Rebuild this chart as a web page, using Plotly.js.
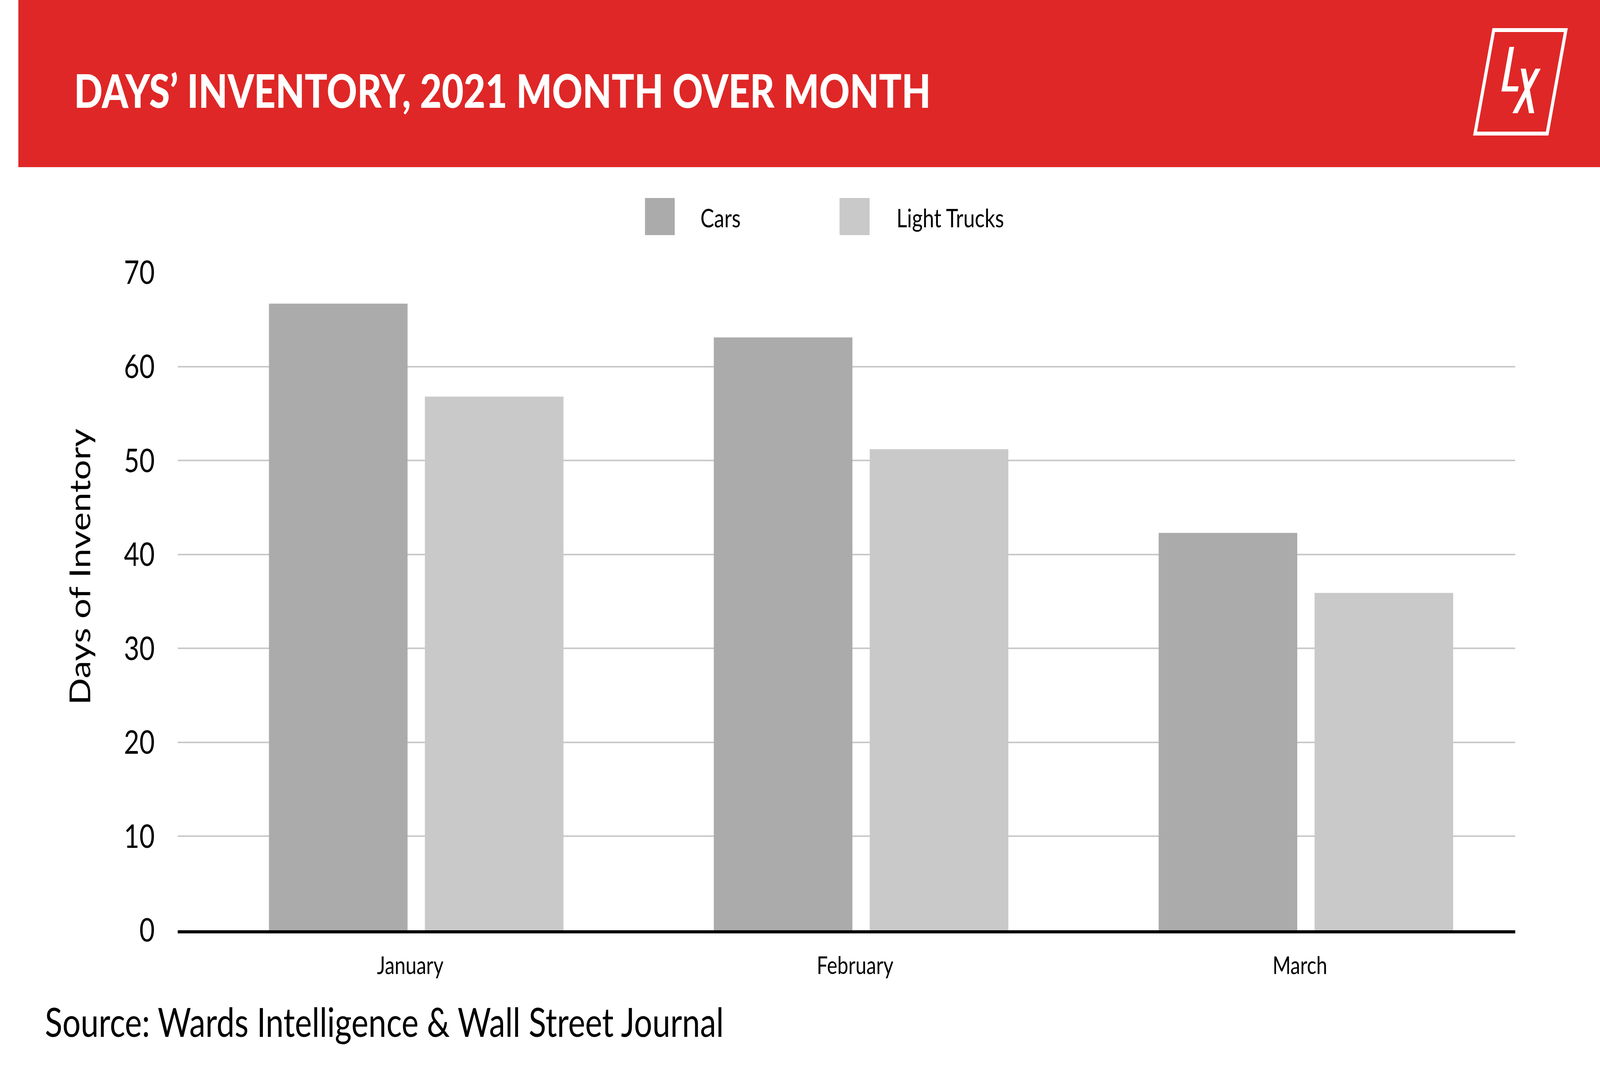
<!DOCTYPE html>
<html>
<head>
<meta charset="utf-8">
<script src="https://cdn.plot.ly/plotly-3.0.1.min.js"></script>
<style>
  html, body { margin: 0; padding: 0; background: #ffffff; overflow: hidden; }
  #chart { position: absolute; left: 0; top: 0; width: 5058px; height: 2727px; transform-origin: 0 0; }
</style>
</head>
<body>
<div id="chart"></div>
<script>
// ---- data ----
const categories = ['January', 'February', 'March'];
const carsValues = [66.7, 63.1, 42.3];
const lightTruckValues = [56.8, 51.2, 35.9];
const seriesNames = ['Cars', 'Light Trucks'];
const yTickValues = [0, 10, 20, 30, 40, 50, 60, 70];
const chartTitle = 'DAYS\u2019 INVENTORY, 2021 MONTH OVER MONTH';
const yAxisTitle = 'Days of Inventory';
const sourceText = 'Source: Wards Intelligence & Wall Street Journal';

// ---- styling: drawn on a 5058 x 2727 canvas, then fitted to the window ----
const W = 5058, H = 2727;
const chartDiv = document.getElementById('chart');
const VW = window.innerWidth || W, VH = window.innerHeight || H;
chartDiv.style.transform = 'scale(' + (VW / W) + ',' + (VH / H) + ')';

const M = { l: 562, r: 268, t: 698, b: 345 };
const PW = W - M.l - M.r, PH = H - M.t - M.b;
const px2x = p => (p - M.l) / PW;
const px2y = p => (H - M.b - p) / PH;
const colors = ['#ABABAB', '#C9C9C9'];
const RED = '#DF2727';
const FONT = 'Lato, "Open Sans", sans-serif';

const traces = [
  { type: 'bar', name: seriesNames[0], x: categories, y: carsValues,
    marker: { color: colors[0], line: { width: 0 } }, hoverinfo: 'x+y+name' },
  { type: 'bar', name: seriesNames[1], x: categories, y: lightTruckValues,
    marker: { color: colors[1], line: { width: 0 } }, hoverinfo: 'x+y+name' }
];

function pathFromPx(pts) {
  return 'M' + pts.map(p => px2x(p[0]).toFixed(6) + ',' + px2y(p[1]).toFixed(6)).join('L') + 'Z';
}

const shapes = [
  // red header band
  { type: 'rect', xref: 'paper', yref: 'paper', layer: 'below',
    x0: px2x(58), x1: px2x(W + 5), y0: px2y(0), y1: px2y(428),
    fillcolor: RED, line: { width: 0 } },
  // logo frame
  { type: 'path', xref: 'paper', yref: 'paper',
    path: pathFromPx([[4722, 77], [4950, 77], [4891, 342], [4663, 342]]),
    line: { color: '#FFFFFF', width: 10 }, fillcolor: 'rgba(0,0,0,0)' },
  // logo L
  { type: 'path', xref: 'paper', yref: 'paper',
    path: pathFromPx([[4771.5, 120], [4786.5, 120], [4765, 221], [4801, 221], [4797.5, 234.3], [4746.3, 234.3]]),
    line: { width: 0 }, fillcolor: '#FFFFFF' },
  // logo X
  { type: 'path', xref: 'paper', yref: 'paper',
    path: pathFromPx([[4807.5, 175.7], [4823.5, 175.7], [4850, 289.7], [4833.5, 289.7]]),
    line: { width: 0 }, fillcolor: '#FFFFFF' },
  { type: 'path', xref: 'paper', yref: 'paper',
    path: pathFromPx([[4854, 175.7], [4870.5, 175.7], [4797.5, 289.7], [4781, 289.7]]),
    line: { width: 0 }, fillcolor: '#FFFFFF' },
  // legend swatches
  { type: 'rect', xref: 'paper', yref: 'paper',
    x0: px2x(2039), x1: px2x(2133), y0: px2y(507), y1: px2y(602),
    fillcolor: colors[0], line: { width: 0 } },
  { type: 'rect', xref: 'paper', yref: 'paper',
    x0: px2x(2654), x1: px2x(2749), y0: px2y(507), y1: px2y(602),
    fillcolor: colors[1], line: { width: 0 } }
];

const annotations = [
  { text: chartTitle, xref: 'paper', yref: 'paper', x: px2x(232), y: px2y(230),
    xanchor: 'left', yanchor: 'middle', showarrow: false,
    font: { family: FONT, size: 119, color: '#FFFFFF', weight: 900 } },
  { text: seriesNames[0], xref: 'paper', yref: 'paper', x: px2x(2212), y: px2y(557),
    xanchor: 'left', yanchor: 'middle', showarrow: false,
    font: { family: FONT, size: 65, color: '#000000' } },
  { text: seriesNames[1], xref: 'paper', yref: 'paper', x: px2x(2832), y: px2y(557),
    xanchor: 'left', yanchor: 'middle', showarrow: false,
    font: { family: FONT, size: 65, color: '#000000' } },
  { text: yAxisTitle, xref: 'paper', yref: 'paper', x: px2x(249), y: px2y(1451),
    xanchor: 'center', yanchor: 'middle', textangle: -90, showarrow: false,
    font: { family: FONT, size: 91, color: '#000000' } },
  { text: sourceText, xref: 'paper', yref: 'paper', x: px2x(140), y: px2y(2615),
    xanchor: 'left', yanchor: 'middle', showarrow: false,
    font: { family: FONT, size: 102, color: '#000000' } }
];

const layout = {
  width: W, height: H,
  margin: { l: M.l, r: M.r, t: M.t, b: M.b, pad: 0 },
  paper_bgcolor: '#FFFFFF', plot_bgcolor: '#FFFFFF',
  showlegend: false,
  barmode: 'group', bargap: 0.299, bargroupgap: 0.111,
  font: { family: FONT, color: '#000000' },
  xaxis: {
    type: 'category', range: [-0.536, 2.4705],
    showline: true, linecolor: '#000000', linewidth: 8,
    showgrid: false, ticks: 'outside', ticklen: 30, tickcolor: 'rgba(0,0,0,0)',
    ticklabelshift: -19,
    tickfont: { family: FONT, size: 62, color: '#000000' }, fixedrange: true
  },
  yaxis: {
    range: [0, 70], tickvals: yTickValues, ticktext: yTickValues.map(String),
    showgrid: true, gridcolor: '#C9C9C9', gridwidth: 4,
    zeroline: false, showline: false, ticks: 'outside', ticklen: 55, tickcolor: 'rgba(0,0,0,0)',
    tickfont: { family: FONT, size: 84, color: '#000000' }, fixedrange: true
  },
  shapes: shapes,
  annotations: annotations
};

Plotly.newPlot(chartDiv, traces, layout, { displayModeBar: false, staticPlot: true });
</script>
</body>
</html>
